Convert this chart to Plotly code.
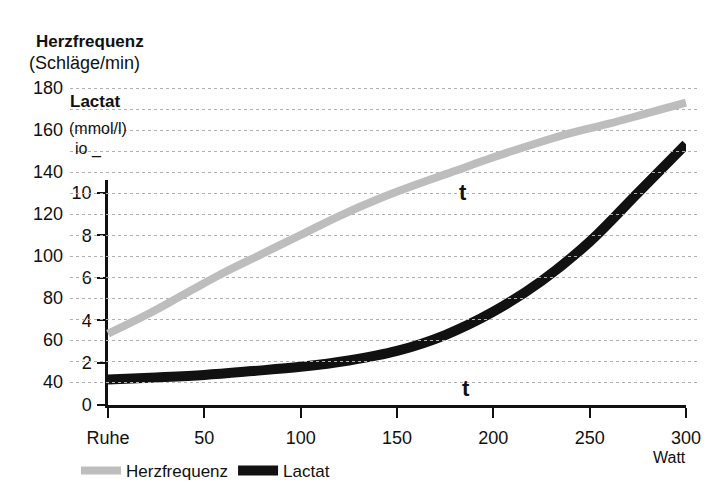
import plotly.graph_objects as go

# ---- data ----
watt = [0, 20, 40, 60, 80, 100, 120, 140, 160, 180, 200, 220, 240, 260, 280, 300]
herzfrequenz = [63, 72, 82, 92, 101, 110, 119, 127, 134, 140.5, 147, 153, 158.5, 163, 168, 173]
lactat_watt = [0, 25, 50, 75, 100, 125, 150, 175, 200, 225, 250, 275, 300]
lactat = [1.2, 1.3, 1.42, 1.6, 1.8, 2.1, 2.55, 3.3, 4.4, 5.85, 7.7, 10.0, 12.3]
x_tickvals = [0, 50, 100, 150, 200, 250, 300]
x_ticktext = ["Ruhe", "50", "100", "150", "200", "250", "300"]
hr_ticks = [40, 60, 80, 100, 120, 140, 160, 180]
hr_minor = [50, 70, 90, 110, 130, 150, 170]
lac_ticks = [0, 2, 4, 6, 8, 10]

W, H = 710, 490
OFF = 8  # page body margin
def fx(px): return (px - OFF) / W
def fy(py): return 1 - (py - OFF) / H

k = (686 - 108) / 300.0      # px per watt
lpx = 21.2                   # px per mmol/l
hpx = 2.1                    # px per bpm

FONT = "Liberation Sans, Arial, sans-serif"

fig = go.Figure()
fig.add_trace(go.Scatter(x=watt, y=herzfrequenz, xaxis="x2", yaxis="y2", mode="lines",
                         name="Herzfrequenz", line=dict(color="#bdbdbd", width=8, shape="spline")))
# lactat on the visible axis pair (clipped there, holds the axes)
fig.add_trace(go.Scatter(x=lactat_watt, y=lactat, xaxis="x", yaxis="y", mode="lines",
                         line=dict(width=0), showlegend=False, hoverinfo="skip"))
fig.add_trace(go.Scatter(x=lactat_watt, y=lactat, xaxis="x", yaxis="y3", mode="lines",
                         name="Lactat", line=dict(color="#111111", width=10, shape="spline")))

fig.update_layout(
    width=W, height=H, autosize=False,
    margin=dict(l=0, r=0, t=0, b=0, autoexpand=False),
    paper_bgcolor="white", plot_bgcolor="rgba(0,0,0,0)",
    font=dict(family=FONT, size=16, color="#111"),
    showlegend=True,
    legend=dict(orientation="h", x=fx(76), y=fy(453), xanchor="left", yanchor="top",
                font=dict(size=17, family=FONT), bgcolor="rgba(0,0,0,0)", itemwidth=40),
    xaxis=dict(domain=[fx(108), fx(686)], range=[0, 300], anchor="y", automargin=False,
               showline=True, linewidth=2.5, linecolor="#111", showgrid=False, zeroline=False,
               ticks="outside", ticklen=10, tickwidth=2, tickcolor="#111",
               tickvals=x_tickvals, ticktext=x_ticktext, tickfont=dict(size=18),
               ticklabelstandoff=5),
    yaxis=dict(domain=[fy(405), fy(180)], range=[0, 225 / lpx], anchor="x", side="left",
               automargin=False,
               showline=True, linewidth=2.5, linecolor="#111", showgrid=False, zeroline=False,
               ticks="outside", ticklen=8, tickwidth=2, tickcolor="#111",
               tickvals=lac_ticks, tickfont=dict(size=18), ticklabelstandoff=2),
    yaxis3=dict(domain=[fy(405), fy(85)], range=[0, 320 / lpx], anchor="x", visible=False,
                automargin=False),
    xaxis2=dict(domain=[fx(70), fx(700)], range=[(70 - 108) / k, (700 - 108) / k],
                anchor="y2", visible=False, automargin=False),
    yaxis2=dict(domain=[fy(410), fy(75)],
                range=[40 + (382 - 410) / hpx, 40 + (382 - 75) / hpx],
                anchor="x2", side="left", showline=False, zeroline=False, automargin=False,
                showgrid=True, gridcolor="#b0b0b0", griddash="dot", gridwidth=1,
                tickvals=hr_ticks, ticks="", tickfont=dict(size=18), ticklabelstandoff=6,
                minor=dict(tickvals=hr_minor, showgrid=True, gridcolor="#b0b0b0",
                           griddash="dot", gridwidth=1)),
)

annos = [
    dict(text="<b>Herzfrequenz</b>", x=fx(34), y=fy(42), size=17),
    dict(text="(Schläge/min)", x=fx(27), y=fy(63), size=18),
    dict(text="<b>Lactat</b>", x=fx(68), y=fy(102), size=17),
    dict(text="(mmol/l)", x=fx(67), y=fy(129), size=16),
    dict(text="io _", x=fx(73), y=fy(149), size=16),
]
for a in annos:
    fig.add_annotation(text=a["text"], x=a["x"], y=a["y"], xref="paper", yref="paper",
                       xanchor="left", yanchor="middle", showarrow=False,
                       font=dict(size=a["size"], family=FONT, color="#111"))
fig.add_annotation(text="Watt", x=fx(688), y=fy(457), xref="paper", yref="paper",
                   xanchor="right", yanchor="middle", showarrow=False,
                   font=dict(size=16, family=FONT, color="#111"))
for (tx, ty) in [(463, 192), (466, 388)]:
    fig.add_annotation(text="<b>t</b>", x=fx(tx), y=fy(ty), xref="paper", yref="paper",
                       xanchor="center", yanchor="middle", showarrow=False,
                       font=dict(size=22, family=FONT, color="#111"))

fig.write_html("out.html")
